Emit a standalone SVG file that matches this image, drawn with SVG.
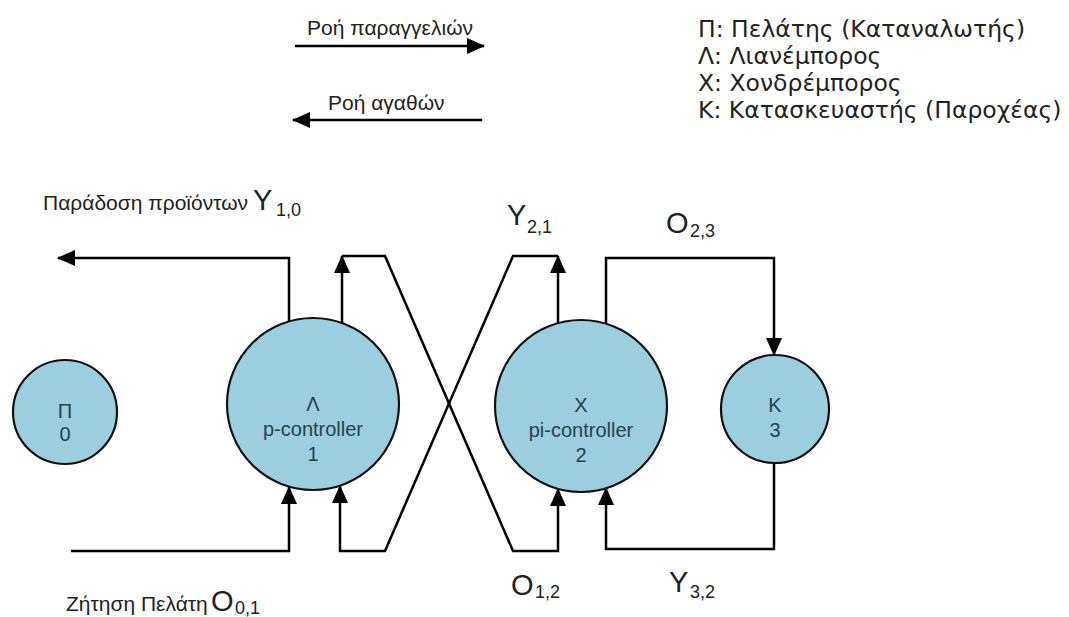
<svg xmlns="http://www.w3.org/2000/svg" width="1069" height="617" viewBox="0 0 1069 617">
  <style>
    .bg { fill: #ffffff; }
    .node circle { fill: #9bcfdd; stroke: #111111; stroke-width: 2.2; }
    .node text { font-family: "Liberation Sans", Arial, sans-serif; font-size: 20px; fill: #23444f; text-anchor: middle; }
    .wire { fill: none; stroke: #000000; stroke-width: 2.5; stroke-linejoin: miter; }
    .label { font-family: "Liberation Sans", Arial, sans-serif; font-size: 21px; fill: #222222; }
    .sym { font-family: "Liberation Sans", Arial, sans-serif; font-size: 29px; fill: #222222; }
    .sub { font-family: "Liberation Sans", Arial, sans-serif; font-size: 18px; fill: #222222; }
    .legend { font-family: "DejaVu Sans", sans-serif; font-size: 23.5px; fill: #222222; }
  </style>
  <defs>
    <marker id="arrow" markerUnits="userSpaceOnUse" markerWidth="18" markerHeight="16" refX="17" refY="8" orient="auto">
      <path d="M0,0 L18,8 L0,16 z" fill="#000000"/>
    </marker>
  </defs>

  <rect class="bg" x="0" y="0" width="1069" height="617"/>

  <!-- flow direction key -->
  <g id="flow-key">
    <text class="label" x="307" y="35">Ροή παραγγελιών</text>
    <path class="wire" d="M295,46 H484" marker-end="url(#arrow)"/>
    <text class="label" x="328" y="110">Ροή αγαθών</text>
    <path class="wire" d="M482,120 H293" marker-end="url(#arrow)"/>
  </g>

  <!-- abbreviations -->
  <g id="abbreviations">
    <text class="legend" x="698" y="37">Π: Πελάτης (Καταναλωτής)</text>
    <text class="legend" x="698" y="64">Λ: Λιανέμπορος</text>
    <text class="legend" x="698" y="91">Χ: Χονδρέμπορος</text>
    <text class="legend" x="698" y="118">Κ: Κατασκευαστής (Παροχέας)</text>
  </g>

  <!-- connectors -->
  <g id="connectors">
    <!-- delivery to customer Y1,0 -->
    <path class="wire" d="M289,322 V258 H58" marker-end="url(#arrow)"/>
    <!-- customer demand O0,1 -->
    <path class="wire" d="M71,551 H289 V487" marker-end="url(#arrow)"/>
    <!-- retailer order O1,2 -->
    <path class="wire" d="M342,323 V256" marker-end="url(#arrow)"/>
    <path class="wire" d="M342,256 H385 L513,551 H558 V489" marker-end="url(#arrow)"/>
    <!-- wholesaler delivery Y2,1 -->
    <path class="wire" d="M558,323 V256" marker-end="url(#arrow)"/>
    <path class="wire" d="M558,256 H513 L385,551 H340 V486" marker-end="url(#arrow)"/>
    <!-- wholesaler order O2,3 -->
    <path class="wire" d="M606,324 V258 H774 V355" marker-end="url(#arrow)"/>
    <!-- manufacturer delivery Y3,2 -->
    <path class="wire" d="M774,463 V549 H606 V488" marker-end="url(#arrow)"/>
  </g>

  <!-- nodes -->
  <g id="node-customer" class="node">
    <circle cx="65" cy="412" r="52"/>
    <text x="65" y="418">Π</text>
    <text x="65" y="441">0</text>
  </g>
  <g id="node-retailer" class="node">
    <circle cx="313" cy="404" r="86"/>
    <text x="313" y="411">Λ</text>
    <text x="313" y="436">p-controller</text>
    <text x="313" y="461">1</text>
  </g>
  <g id="node-wholesaler" class="node">
    <circle cx="581" cy="406" r="86"/>
    <text x="581" y="412">Χ</text>
    <text x="581" y="437">pi-controller</text>
    <text x="581" y="462">2</text>
  </g>
  <g id="node-manufacturer" class="node">
    <circle cx="775" cy="409" r="54"/>
    <text x="775" y="412">Κ</text>
    <text x="775" y="437">3</text>
  </g>

  <!-- flow labels -->
  <g id="flow-labels">
    <text class="label" x="43" y="210">Παράδοση προϊόντων</text>
    <text class="sym" x="253" y="210">Y</text>
    <text class="sub" x="276" y="216">1,0</text>

    <text class="label" x="66" y="611">Ζήτηση Πελάτη</text>
    <text class="sym" x="211" y="611">O</text>
    <text class="sub" x="235" y="614">0,1</text>

    <text class="sym" x="507" y="225">Y</text>
    <text class="sub" x="527" y="233">2,1</text>

    <text class="sym" x="666" y="233">O</text>
    <text class="sub" x="690" y="237">2,3</text>

    <text class="sym" x="511" y="595">O</text>
    <text class="sub" x="535" y="598">1,2</text>

    <text class="sym" x="669" y="592">Y</text>
    <text class="sub" x="690" y="598">3,2</text>
  </g>
</svg>
